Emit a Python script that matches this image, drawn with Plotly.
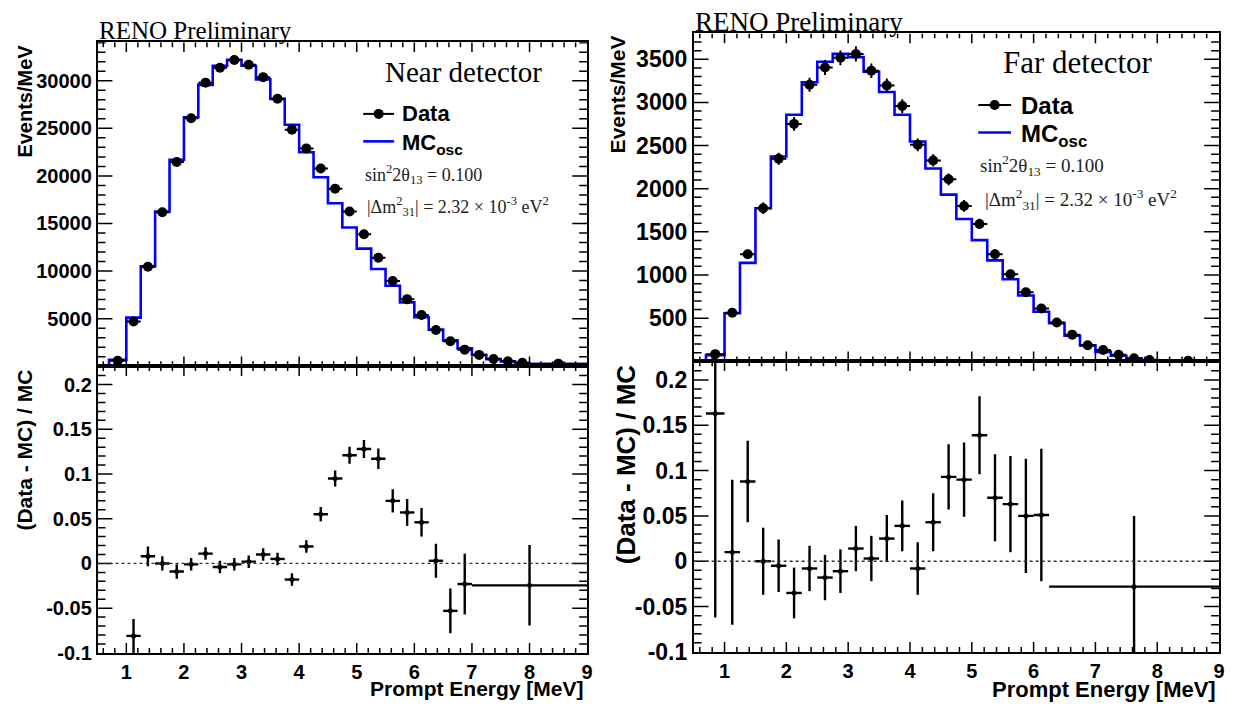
import plotly.graph_objects as go

W, H = 1238, 714

# ---------------- binning (prompt energy, MeV) ----------------
spec_edges = [0.5, 0.7, 1.0, 1.25, 1.5, 1.75, 2.0, 2.25, 2.5, 2.75, 3.0, 3.25, 3.5, 3.75,
              4.0, 4.25, 4.5, 4.75, 5.0, 5.25, 5.5, 5.75, 6.0, 6.25, 6.5, 6.75, 7.0,
              7.25, 7.5, 7.75, 8.0, 9.0]
near_ratio_edges = [1.0, 1.25, 1.5, 1.75, 2.0, 2.25, 2.5, 2.75, 3.0, 3.25, 3.5, 3.75, 4.0,
                    4.25, 4.5, 4.75, 5.0, 5.25, 5.5, 5.75, 6.0, 6.25, 6.5, 6.75, 7.0, 9.0]
far_ratio_edges = [0.7, 1.0, 1.25, 1.5, 1.75, 2.0, 2.25, 2.5, 2.75, 3.0, 3.25, 3.5, 3.75,
                   4.0, 4.25, 4.5, 4.75, 5.0, 5.25, 5.5, 5.75, 6.0, 6.25, 9.0]

# ---------------- near detector (events / MeV) ----------------
near_mc = [0, 680, 5110, 10490, 16250, 21700, 26160, 29570, 31570, 32190, 31570, 30140,
           28100, 25370, 22480, 19860, 17130, 14580, 12360, 10220, 8450, 6710, 5150, 3850,
           2720, 1870, 1190, 750, 510, 340, 240]
near_data = [580, 4700, 10460, 16180, 21460, 26060, 29800, 31370, 32190, 31680, 30380,
             28100, 24860, 22890, 20780, 18660, 16250, 13860, 11410, 8960, 7050, 5380,
             3810, 2620, 1740, 1190, 750, 510, 370, 270]
near_data_err = [60, 100, 115, 130, 170, 180, 200, 210, 220, 220, 210, 200, 180, 170, 160,
                 150, 140, 125, 115, 105, 95, 85, 75, 65, 60, 50, 40, 35, 30, 20]
near_ratio = [-0.081, 0.008, 0.000, -0.009, -0.001, 0.011, -0.004, -0.001, 0.002, 0.010,
              0.005, -0.018, 0.019, 0.055, 0.095, 0.121, 0.128, 0.117, 0.070, 0.057, 0.046,
              0.003, -0.053, -0.023, -0.0245]
near_ratio_err = [0.019, 0.011, 0.008, 0.008, 0.007, 0.007, 0.007, 0.007, 0.007, 0.007,
                  0.007, 0.007, 0.007, 0.008, 0.009, 0.0095, 0.010, 0.0115, 0.013, 0.015,
                  0.016, 0.019, 0.025, 0.034, 0.045]

# ---------------- far detector (events / MeV) ----------------
far_mc = [0, 72, 556, 1140, 1774, 2374, 2857, 3234, 3472, 3562, 3525, 3355, 3121, 2857,
          2547, 2234, 1932, 1649, 1404, 1170, 951, 762, 574, 442, 298, 185, 109, 64, 34, 15, 5]
far_data = [83, 562, 1241, 1774, 2347, 2751, 3204, 3404, 3517, 3562, 3366, 3196, 2958,
            2509, 2328, 2109, 1800, 1592, 1241, 1008, 800, 611, 449, 309, 185, 132, 75,
            34, 15, 5]
far_data_err = [16, 45, 51, 66, 69, 80, 81, 87, 85, 88, 84, 81, 80, 74, 71, 68, 68, 60, 56,
                50, 48, 42, 38, 32, 25, 20, 15, 10, 6, 4]
far_ratio = [0.163, 0.010, 0.088, 0.000, -0.005, -0.035, -0.008, -0.018, -0.011, 0.014,
             0.003, 0.025, 0.039, -0.008, 0.043, 0.093, 0.090, 0.139, 0.070, 0.063, 0.050,
             0.051, -0.028]
far_ratio_err = [0.225, 0.080, 0.045, 0.037, 0.029, 0.028, 0.025, 0.025, 0.024, 0.025,
                 0.025, 0.026, 0.028, 0.029, 0.032, 0.036, 0.041, 0.043, 0.048, 0.053,
                 0.063, 0.073, 0.078]

x_ticks = [1, 2, 3, 4, 5, 6, 7, 8, 9]
ratio_ticks = [-0.1, -0.05, 0, 0.05, 0.1, 0.15, 0.2]
ratio_ticktext = ["-0.1", "-0.05", "0", "0.05", "0.1", "0.15", "0.2"]
near_yticks = [5000, 10000, 15000, 20000, 25000, 30000]
near_yticktext = ["5000", "10000", "15000", "20000", "25000", "30000"]
far_yticks = [500, 1000, 1500, 2000, 2500, 3000, 3500]
far_yticktext = ["500", "1000", "1500", "2000", "2500", "3000", "3500"]

X_RANGE = [0.5, 9.0]
NEAR_Y_RANGE = [0, 34050]
FAR_Y_RANGE = [0, 3800]
RATIO_RANGE = [-0.1, 0.2205]

# frame boxes in page pixels: (left, right, top, bottom)
BOX = {
    "": (98, 590, 43, 373),
    "2": (98, 590, 373, 665),
    "3": (697, 1225, 34, 368),
    "4": (697, 1225, 368, 664),
}


def centers(edges):
    return [(a + b) / 2 for a, b in zip(edges[:-1], edges[1:])]


def halfwidths(edges):
    return [(b - a) / 2 for a, b in zip(edges[:-1], edges[1:])]


def px(x):
    return x / W


def py(y):
    return 1 - y / H


SANS = "Liberation Sans, Arial, sans-serif"
SERIF = "Liberation Serif, Times New Roman, serif"
BLUE = "#0000ff"

fig = go.Figure()


# ---- frame tick marks (major + minor, on all four sides) ----
def add_ticks(ax, y_range, y_step, major_every=5, x_step=0.2,
              x_major_len=10, x_minor_len=5, y_major_len=15, y_minor_len=8):
    left, right, top, bottom = BOX[ax]
    wpx, hpx = right - left, bottom - top
    dx_per_px = (X_RANGE[1] - X_RANGE[0]) / wpx
    dy_per_px = (y_range[1] - y_range[0]) / hpx
    xs, ys = [], []
    for n in range(int(round(X_RANGE[0] / x_step)), int(round(X_RANGE[1] / x_step)) + 1):
        v = round(n * x_step, 6)
        if v <= X_RANGE[0] or v >= X_RANGE[1]:
            continue
        ln = (x_major_len if n % major_every == 0 else x_minor_len) * dy_per_px
        xs += [v, v, None, v, v, None]
        ys += [y_range[0], y_range[0] + ln, None, y_range[1], y_range[1] - ln, None]
    for n in range(int(round(y_range[0] / y_step)), int(round(y_range[1] / y_step)) + 1):
        v = round(n * y_step, 6)
        if v <= y_range[0] or v >= y_range[1]:
            continue
        ln = (y_major_len if n % major_every == 0 else y_minor_len) * dx_per_px
        xs += [X_RANGE[0], X_RANGE[0] + ln, None, X_RANGE[1], X_RANGE[1] - ln, None]
        ys += [v, v, None, v, v, None]
    fig.add_trace(go.Scatter(
        x=xs, y=ys, mode="lines", line=dict(color="black", width=1.5),
        xaxis="x" + ax, yaxis="y" + ax, showlegend=False, hoverinfo="skip"))


def add_panel(top_x, top_y, bot_x, bot_y, mc, data, data_err, r_edges, ratio, ratio_err):
    xs = centers(spec_edges)[1:]
    hw = halfwidths(spec_edges)[1:]
    # MC expectation drawn as a histogram step line
    fig.add_trace(go.Scatter(
        x=spec_edges, y=mc + [mc[-1]], mode="lines", line_shape="hv",
        line=dict(color=BLUE, width=2.6), xaxis=top_x, yaxis=top_y,
        showlegend=False, hoverinfo="skip"))
    # measured spectrum
    fig.add_trace(go.Scatter(
        x=xs, y=data, mode="markers",
        marker=dict(color="black", size=10, symbol="circle"),
        error_x=dict(type="data", array=hw, color="black", thickness=2, width=0),
        error_y=dict(type="data", array=data_err, color="black", thickness=2, width=0),
        xaxis=top_x, yaxis=top_y, showlegend=False))
    # (Data - MC) / MC
    fig.add_trace(go.Scatter(
        x=centers(r_edges), y=ratio, mode="markers",
        marker=dict(color="black", size=5, symbol="circle"),
        error_x=dict(type="data", array=halfwidths(r_edges), color="black", thickness=2.4, width=0),
        error_y=dict(type="data", array=ratio_err, color="black", thickness=2.4, width=0),
        xaxis=bot_x, yaxis=bot_y, showlegend=False))


add_ticks("", NEAR_Y_RANGE, 1000)
add_ticks("2", RATIO_RANGE, 0.01)
add_ticks("3", FAR_Y_RANGE, 100)
add_ticks("4", RATIO_RANGE, 0.01)

add_panel("x", "y", "x2", "y2", near_mc, near_data, near_data_err, near_ratio_edges,
          near_ratio, near_ratio_err)
add_panel("x3", "y3", "x4", "y4", far_mc, far_data, far_data_err, far_ratio_edges,
          far_ratio, far_ratio_err)


def axis(size, ax, which, **kw):
    left, right, top, bottom = BOX[ax]
    if which == "x":
        dom = [px(left), px(right)]
    else:
        dom = [py(bottom), py(top)]
    d = dict(domain=dom, showline=True, linecolor="black", linewidth=1.5, mirror=True,
             ticks="", showgrid=False, zeroline=False, tickmode="array",
             tickfont=dict(family=SANS, size=size, color="black", weight="bold"))
    d.update(kw)
    return d


fig.update_layout(
    width=W, height=H, margin=dict(l=0, r=0, t=0, b=0),
    paper_bgcolor="white", plot_bgcolor="white", showlegend=False,
    xaxis=axis(20, "", "x", anchor="y", matches="x2", range=X_RANGE, tickvals=x_ticks,
               showticklabels=False),
    yaxis=axis(20, "", "y", anchor="x", range=NEAR_Y_RANGE, tickvals=near_yticks,
               ticktext=near_yticktext),
    xaxis2=axis(20, "2", "x", anchor="y2", range=X_RANGE, tickvals=x_ticks),
    yaxis2=axis(20, "2", "y", anchor="x2", range=RATIO_RANGE, tickvals=ratio_ticks,
                ticktext=ratio_ticktext),
    xaxis3=axis(20, "3", "x", anchor="y3", matches="x4", range=X_RANGE, tickvals=x_ticks,
                showticklabels=False),
    yaxis3=axis(23, "3", "y", anchor="x3", range=FAR_Y_RANGE, tickvals=far_yticks,
                ticktext=far_yticktext),
    xaxis4=axis(20, "4", "x", anchor="y4", range=X_RANGE, tickvals=x_ticks),
    yaxis4=axis(23, "4", "y", anchor="x4", range=RATIO_RANGE, tickvals=ratio_ticks,
                ticktext=ratio_ticktext),
)

shapes = []
# zero reference lines in the ratio panels
for ax in ("2", "4"):
    shapes.append(dict(type="line", xref="x%s domain" % ax, yref="y" + ax,
                       x0=0, x1=1, y0=0, y1=0,
                       line=dict(color="#333333", width=1.3, dash="3px,3px")))

annotations = []


def text(x, y, s, size, family=SERIF, xanchor="left", yanchor="middle", angle=0,
         weight="normal", color="black"):
    annotations.append(dict(
        x=px(x), y=py(y), xref="paper", yref="paper", text=s, showarrow=False,
        xanchor=xanchor, yanchor=yanchor, textangle=angle,
        font=dict(family=family, size=size, color=color, weight=weight)))


def legend(x0, x1, y_data, y_mc, tx, size):
    shapes.append(dict(type="line", xref="paper", yref="paper",
                       x0=px(x0), x1=px(x1), y0=py(y_data), y1=py(y_data),
                       line=dict(color="black", width=2)))
    shapes.append(dict(type="circle", xref="paper", yref="paper",
                       xsizemode="pixel", ysizemode="pixel",
                       xanchor=px((x0 + x1) / 2), yanchor=py(y_data),
                       x0=-5, x1=5, y0=-5, y1=5,
                       fillcolor="black", line=dict(color="black", width=0)))
    shapes.append(dict(type="line", xref="paper", yref="paper",
                       x0=px(x0), x1=px(x1), y0=py(y_mc), y1=py(y_mc),
                       line=dict(color=BLUE, width=2.6)))
    text(tx, y_data, "Data", size, family=SANS, weight="bold")
    text(tx, y_mc + 3, "MC<sub>osc</sub>", size, family=SANS, weight="bold")


# near detector texts
text(97, 31, "RENO Preliminary", 25)
text(466, 73, "Near detector", 29, xanchor="center")
legend(365, 396, 116, 144, 402, 22)
text(365, 178, "sin<sup>2</sup>2θ<sub>13</sub> = 0.100", 18, color="#222222")
text(367, 210, "|Δm<sup>2</sup><sub>31</sub>| = 2.32 × 10<sup>-3</sup> eV<sup>2</sup>", 18,
     color="#222222")
text(25, 43, "Events/MeV", 20, family=SANS, xanchor="center", yanchor="top", angle=-90,
     weight="bold")
text(25, 374, "(Data - MC) / MC", 21, family=SANS, xanchor="center", yanchor="top",
     angle=-90, weight="bold")
text(589, 701, "Prompt Energy [MeV]", 21, family=SANS, xanchor="right", weight="bold")

# far detector texts
text(696, 22, "RENO Preliminary", 27)
text(1083, 64, "Far detector", 31, xanchor="center")
legend(983, 1016, 107, 135, 1024, 24)
text(983, 169, "sin<sup>2</sup>2θ<sub>13</sub> = 0.100", 19, color="#222222")
text(988, 203, "|Δm<sup>2</sup><sub>31</sub>| = 2.32 × 10<sup>-3</sup> eV<sup>2</sup>", 19,
     color="#222222")
text(620, 34, "Events/MeV", 21, family=SANS, xanchor="center", yanchor="top", angle=-90,
     weight="bold")
text(629, 369, "(Data - MC) / MC", 26, family=SANS, xanchor="center", yanchor="top",
     angle=-90, weight="bold")
text(1224, 702, "Prompt Energy [MeV]", 22, family=SANS, xanchor="right", weight="bold")

fig.update_layout(shapes=shapes, annotations=annotations)

fig.write_html("out.html")
